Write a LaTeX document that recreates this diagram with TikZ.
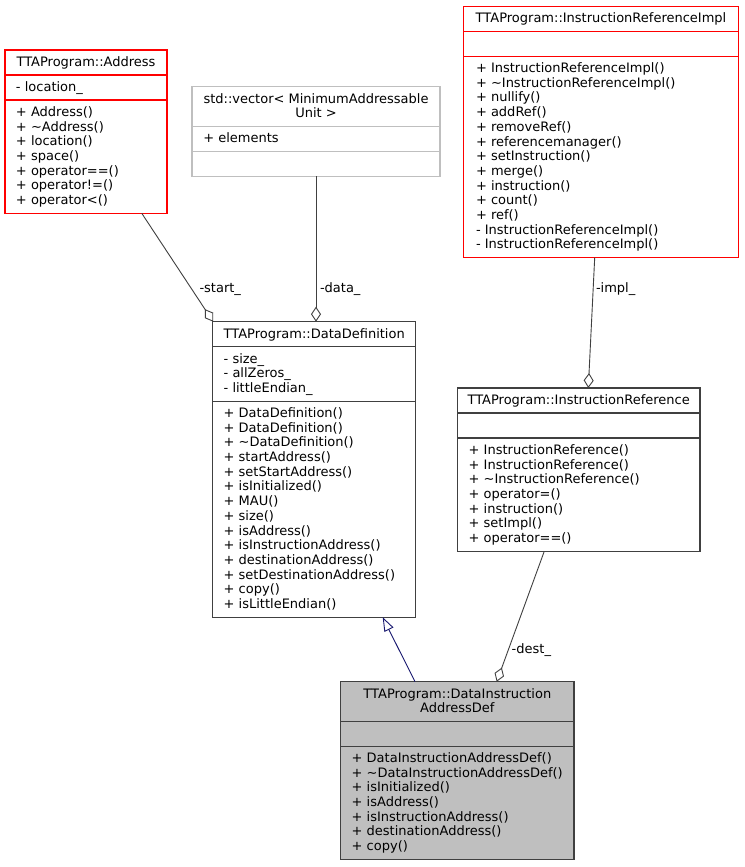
\documentclass[tikz,border=0pt]{standalone}
\usepackage{fontspec}
\setmainfont{DejaVu Sans}
\usetikzlibrary{arrows.meta}
\definecolor{edgegray}{HTML}{404040}
\definecolor{extgray}{HTML}{BFBFBF}
\definecolor{cfill}{HTML}{BFBFBF}
\definecolor{inhblue}{HTML}{191970}
\definecolor{boxred}{HTML}{FF0000}
\tikzset{
  txt/.style={inner sep=0pt, outer sep=0pt, font=\fontsize{13}{14.7}\selectfont},
  classbox/.style={line width=1.1pt, inner sep=0pt, outer sep=0pt, anchor=north west},
  sepline/.style={line width=1.1pt},
  aggr/.style={draw=edgegray, line width=0.9pt, {Diamond[open, length=15pt, width=10pt]}-},
  inherit/.style={draw=inhblue, line width=0.9pt, -{Triangle[open, length=14pt, width=10pt]}},
}
\newcommand\umlsep[3]{% box, dy, color
  \draw[sepline, draw=#3] ([yshift=-#2pt]#1.north west) -- ([yshift=-#2pt]#1.north east);}
\newcommand\umlframe[2]{% box, color
  \draw[sepline, draw=#2] (#1.north west) rectangle (#1.south east);}
\newcommand\umllines[5]{% box, prefix, dx, first baseline dy, list
  \foreach \t [count=\i from 0] in {#5} {
    \node[txt, anchor=base west] (#1-#2\i) at ([xshift=#3pt, yshift={-(#4+\i*14.7)*1pt}]#1.north west) {\t};
  }}
\newcommand\umltitle[3]{% box, first baseline dy, list
  \foreach \t [count=\i from 0] in {#3} {
    \node[txt, anchor=base] (#1-t\i) at ([yshift={-(#2+\i*14.7)*1pt}]#1.north) {\t};
  }}
\begin{document}
\begin{tikzpicture}[x=1pt, y=-1pt]
\useasboundingbox[fill=white] (0,0) rectangle (744,867);

% TTAProgram::Address
\node[classbox, fill=white, minimum width=162pt, minimum height=163.2pt] (addr) at (5,50) {};
\umlsep{addr}{25}{boxred}\umlsep{addr}{50}{boxred}\umlframe{addr}{boxred}
\umltitle{addr}{16.3}{TTAProgram::Address}
\umllines{addr}{a}{11}{41.3}{- location\_}
\umllines{addr}{m}{11}{66.3}{+ Address(), + \textasciitilde Address(), + location(), + space(), + operator==(), + operator!=(), + operator<()}

% std::vector
\node[classbox, fill=white, minimum width=248pt, minimum height=89.7pt] (vec) at (192,86.7) {};
\umlsep{vec}{39.7}{extgray}\umlsep{vec}{64.7}{extgray}\umlframe{vec}{extgray}
\umltitle{vec}{16.3}{std::vector< MinimumAddressable, Unit >}
\umllines{vec}{a}{11.3}{56}{+ elements}

% TTAProgram::InstructionReferenceImpl
\node[classbox, fill=white, minimum width=275.4pt, minimum height=251.4pt] (impl) at (463.3,6.2) {};
\umlsep{impl}{25}{boxred}\umlsep{impl}{50}{boxred}\umlframe{impl}{boxred}
\umltitle{impl}{16.3}{TTAProgram::InstructionReferenceImpl}
\umllines{impl}{m}{12.7}{66.3}{+ InstructionReferenceImpl(), + \textasciitilde InstructionReferenceImpl(), + nullify(), + addRef(), + removeRef(), + referencemanager(), + setInstruction(), + merge(), + instruction(), + count(), + ref(), - InstructionReferenceImpl(), - InstructionReferenceImpl()}

% TTAProgram::DataDefinition
\node[classbox, fill=white, minimum width=203pt, minimum height=295.5pt] (dd) at (212.7,321.7) {};
\umlsep{dd}{25}{edgegray}\umlsep{dd}{79.4}{edgegray}\umlframe{dd}{edgegray}
\umltitle{dd}{16.3}{TTAProgram::DataDefinition}
\umllines{dd}{a}{11}{41.3}{- size\_, - allZeros\_, - littleEndian\_}
\umllines{dd}{m}{11}{95.7}{+ DataDefinition(), + DataDefinition(), + \textasciitilde DataDefinition(), + startAddress(), + setStartAddress(), + isInitialized(), + MAU(), + size(), + isAddress(), + isInstructionAddress(), + destinationAddress(), + setDestinationAddress(), + copy(), + isLittleEndian()}

% TTAProgram::InstructionReference
\node[classbox, fill=white, minimum width=242.7pt, minimum height=163.2pt] (ir) at (457.3,388) {};
\umlsep{ir}{25}{edgegray}\umlsep{ir}{50}{edgegray}\umlframe{ir}{edgegray}
\umltitle{ir}{16.3}{TTAProgram::InstructionReference}
\umllines{ir}{m}{11.4}{66.3}{+ InstructionReference(), + InstructionReference(), + \textasciitilde InstructionReference(), + operator=(), + instruction(), + setImpl(), + operator==()}

% TTAProgram::DataInstructionAddressDef
\node[classbox, fill=cfill, minimum width=233.3pt, minimum height=177.9pt] (diad) at (340.7,681.7) {};
\umlsep{diad}{39.7}{edgegray}\umlsep{diad}{64.7}{edgegray}\umlframe{diad}{edgegray}
\umltitle{diad}{16.3}{TTAProgram::DataInstruction, AddressDef}
\umllines{diad}{m}{11}{80.7}{+ DataInstructionAddressDef(), + \textasciitilde DataInstructionAddressDef(), + isInitialized(), + isAddress(), + isInstructionAddress(), + destinationAddress(), + copy()}

% connectors
\draw[aggr] ([xshift=0.5pt]dd.north west) -- ([xshift=136.7pt]addr.south west);
\draw[aggr] (vec.south |- dd.north) -- (vec.south);
\draw[aggr] ([xshift=131pt]ir.north west) -- ([xshift=131.4pt]impl.south west);
\draw[aggr] ([xshift=156pt]diad.north west) -- ([xshift=87pt]ir.south west);
\draw[inherit] ([xshift=74.3pt]diad.north west) -- ([xshift=170pt]dd.south west);

% labels
\node[txt, anchor=base west] (lstart) at (199.5,292.5) {-start\_};
\node[txt, anchor=base west] (ldata) at (320,292.5) {-data\_};
\node[txt, anchor=base west] (limpl) at (596,292.5) {-impl\_};
\node[txt, anchor=base west] (ldest) at (511.7,653) {-dest\_};
\end{tikzpicture}
\end{document}
